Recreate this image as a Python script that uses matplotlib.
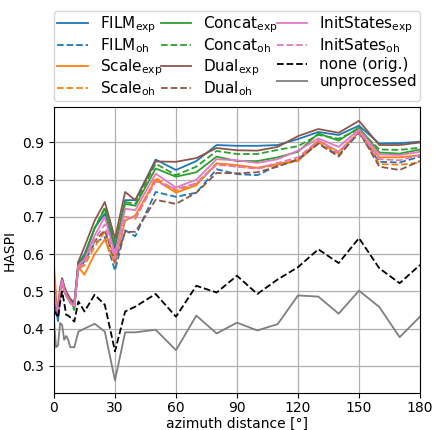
import numpy as np
import matplotlib
matplotlib.use("Agg")
import matplotlib.pyplot as plt

az = [0, 1, 2, 3, 4, 5, 6, 7, 8, 10, 12, 15, 20, 25, 30, 35, 40,
      50, 60, 70, 80, 90, 100, 110, 120, 130, 140, 150, 160, 170, 180]

film_exp = [0.49, 0.45, 0.42, 0.50, 0.535, 0.51, 0.49, 0.48, 0.475, 0.47, 0.575, 0.60, 0.67, 0.709, 0.615, 0.745, 0.745,
            0.854, 0.826, 0.85, 0.893, 0.891, 0.891, 0.893, 0.909, 0.928, 0.92, 0.945, 0.897, 0.898, 0.902]
film_oh = [0.50, 0.46, 0.43, 0.50, 0.53, 0.505, 0.49, 0.48, 0.47, 0.46, 0.56, 0.58, 0.63, 0.646, 0.556, 0.664, 0.648,
           0.767, 0.754, 0.765, 0.828, 0.815, 0.812, 0.838, 0.852, 0.897, 0.866, 0.925, 0.848, 0.846, 0.862]
scale_exp = [0.567, 0.49, 0.45, 0.51, 0.525, 0.50, 0.49, 0.48, 0.47, 0.46, 0.565, 0.545, 0.60, 0.64, 0.575, 0.69, 0.704,
             0.80, 0.765, 0.785, 0.844, 0.839, 0.832, 0.842, 0.853, 0.905, 0.875, 0.927, 0.86, 0.86, 0.866]
scale_oh = [0.55, 0.48, 0.44, 0.50, 0.53, 0.50, 0.49, 0.48, 0.47, 0.46, 0.56, 0.57, 0.62, 0.66, 0.59, 0.70, 0.695,
            0.805, 0.77, 0.79, 0.843, 0.835, 0.83, 0.84, 0.85, 0.90, 0.87, 0.93, 0.842, 0.84, 0.846]
concat_exp = [0.50, 0.47, 0.44, 0.50, 0.53, 0.51, 0.49, 0.48, 0.475, 0.455, 0.575, 0.59, 0.67, 0.722, 0.625, 0.735, 0.73,
              0.83, 0.808, 0.82, 0.862, 0.85, 0.85, 0.86, 0.875, 0.924, 0.905, 0.94, 0.873, 0.87, 0.881]
concat_oh = [0.50, 0.47, 0.44, 0.50, 0.53, 0.51, 0.49, 0.48, 0.475, 0.45, 0.58, 0.595, 0.67, 0.725, 0.63, 0.74, 0.735,
             0.843, 0.812, 0.835, 0.877, 0.869, 0.869, 0.88, 0.89, 0.92, 0.91, 0.935, 0.881, 0.88, 0.886]
dual_exp = [0.50, 0.47, 0.44, 0.51, 0.535, 0.515, 0.50, 0.49, 0.48, 0.47, 0.58, 0.62, 0.69, 0.74, 0.642, 0.767, 0.745,
            0.849, 0.848, 0.858, 0.885, 0.879, 0.878, 0.888, 0.917, 0.936, 0.926, 0.958, 0.893, 0.893, 0.90]
dual_oh = [0.50, 0.47, 0.44, 0.50, 0.53, 0.50, 0.49, 0.48, 0.47, 0.46, 0.565, 0.585, 0.635, 0.664, 0.58, 0.66, 0.66,
           0.746, 0.735, 0.765, 0.818, 0.817, 0.82, 0.835, 0.855, 0.897, 0.862, 0.93, 0.835, 0.826, 0.85]
init_exp = [0.50, 0.47, 0.44, 0.50, 0.53, 0.505, 0.49, 0.48, 0.47, 0.46, 0.57, 0.585, 0.65, 0.70, 0.60, 0.722, 0.718,
            0.816, 0.779, 0.80, 0.855, 0.852, 0.845, 0.855, 0.878, 0.911, 0.888, 0.935, 0.868, 0.866, 0.875]
init_oh = [0.50, 0.47, 0.44, 0.50, 0.53, 0.505, 0.49, 0.48, 0.47, 0.46, 0.565, 0.575, 0.64, 0.68, 0.585, 0.70, 0.695,
           0.795, 0.775, 0.79, 0.84, 0.835, 0.83, 0.845, 0.86, 0.905, 0.875, 0.93, 0.855, 0.852, 0.866]
none_orig = [0.45, 0.44, 0.43, 0.47, 0.50, 0.47, 0.437, 0.435, 0.43, 0.419, 0.473, 0.446, 0.491, 0.464, 0.339, 0.446, 0.459,
             0.493, 0.432, 0.515, 0.497, 0.542, 0.493, 0.532, 0.565, 0.613, 0.576, 0.643, 0.562, 0.522, 0.571]
unproc = [0.42, 0.35, 0.355, 0.415, 0.41, 0.37, 0.38, 0.37, 0.35, 0.35, 0.392, 0.40, 0.413, 0.392, 0.261, 0.39, 0.39,
          0.397, 0.342, 0.435, 0.387, 0.416, 0.395, 0.412, 0.489, 0.486, 0.44, 0.502, 0.458, 0.377, 0.432]

series = [
    (r"FILM$_\mathrm{exp}$", film_exp, "tab:blue", "-"),
    (r"FILM$_\mathrm{oh}$", film_oh, "tab:blue", "--"),
    (r"Scale$_\mathrm{exp}$", scale_exp, "tab:orange", "-"),
    (r"Scale$_\mathrm{oh}$", scale_oh, "tab:orange", "--"),
    (r"Concat$_\mathrm{exp}$", concat_exp, "tab:green", "-"),
    (r"Concat$_\mathrm{oh}$", concat_oh, "tab:green", "--"),
    (r"Dual$_\mathrm{exp}$", dual_exp, "tab:brown", "-"),
    (r"Dual$_\mathrm{oh}$", dual_oh, "tab:brown", "--"),
    (r"InitStates$_\mathrm{exp}$", init_exp, "tab:pink", "-"),
    (r"InitSates$_\mathrm{oh}$", init_oh, "tab:pink", "--"),
    ("none (orig.)", none_orig, "black", "--"),
    ("unprocessed", unproc, "tab:gray", "-"),
]

fig = plt.figure(figsize=(4.34, 4.30), dpi=100)
ax = fig.add_axes([0.1244, 0.086, 0.8433, 0.665])

for lab, vals, col, ls in series:
    ax.plot(az, vals, color=col, ls=ls, lw=1.3, label=lab)

ax.set_xlim(0, 180)
ax.set_ylim(0.227, 0.995)
ax.set_xticks(np.arange(0, 181, 30))
ax.tick_params(axis="x", pad=2.5)
ax.set_xlabel("azimuth distance [°]", labelpad=1)
ax.set_ylabel("HASPI")
ax.grid(True, color="#b0b0b0", lw=0.9)

ax.legend(loc="lower left", bbox_to_anchor=(0, 1.02, 1, 0.2), mode="expand", ncol=3,
          fontsize=11, borderaxespad=0, handlelength=2.0, labelspacing=0.12,
          borderpad=0.2, handletextpad=0.8, columnspacing=0.8)

fig.savefig("out.png", dpi=100)
